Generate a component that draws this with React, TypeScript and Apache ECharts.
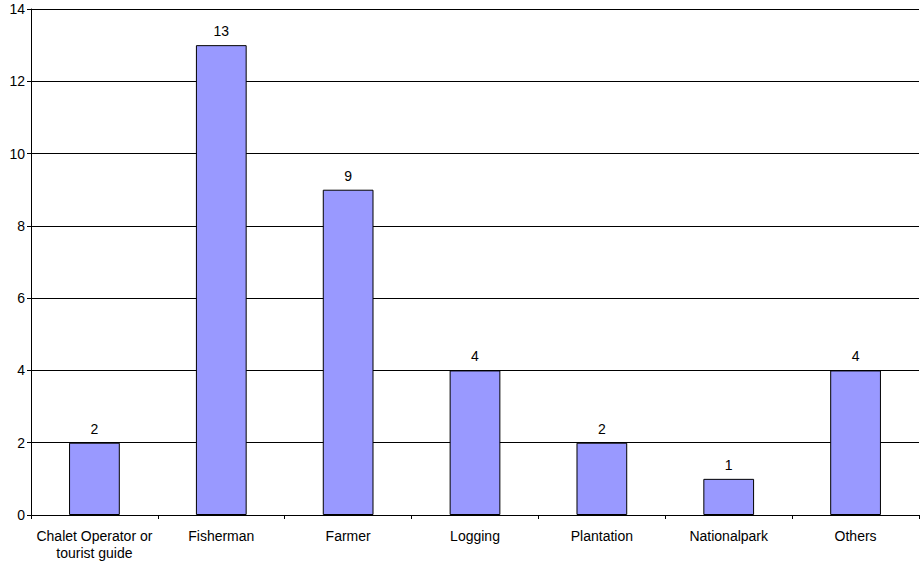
import React, { useEffect, useRef } from "react";
import * as echarts from "echarts";

// Occupation categories and respondent counts
const categories: string[] = [
  "Chalet Operator or\ntourist guide",
  "Fisherman",
  "Farmer",
  "Logging",
  "Plantation",
  "Nationalpark",
  "Others",
];
const counts: number[] = [2, 13, 9, 4, 2, 1, 4];

const yMin = 0;
const yMax = 14;
const yStep = 2;

const FONT = "'Liberation Sans', Arial, sans-serif";
const FONT_SIZE = 14;

export default function App() {
  const ref = useRef<HTMLDivElement>(null);

  useEffect(() => {
    if (!ref.current) return;
    const chart = echarts.init(ref.current, null, { renderer: "svg" });
    chart.setOption({
      animation: false,
      backgroundColor: "#ffffff",
      textStyle: { fontFamily: FONT },
      grid: { left: 31, right: 2, top: 9, bottom: 46, containLabel: false },
      xAxis: {
        type: "category",
        data: categories,
        boundaryGap: true,
        axisLine: { show: true, lineStyle: { color: "#000", width: 1 } },
        axisTick: {
          show: true,
          alignWithLabel: false,
          inside: false,
          length: 4,
          lineStyle: { color: "#000" },
        },
        axisLabel: {
          color: "#000",
          fontSize: FONT_SIZE,
          fontFamily: FONT,
          margin: 12,
          lineHeight: 17,
          interval: 0,
        },
        splitLine: { show: false },
      },
      yAxis: {
        type: "value",
        min: yMin,
        max: yMax,
        interval: yStep,
        axisLine: { show: true, lineStyle: { color: "#000", width: 1 } },
        axisTick: { show: true, length: 4, lineStyle: { color: "#000" } },
        axisLabel: {
          color: "#000",
          fontSize: FONT_SIZE,
          fontFamily: FONT,
          margin: 6,
        },
        splitLine: { show: true, lineStyle: { color: "#000", width: 1 } },
      },
      series: [
        {
          type: "bar",
          data: counts,
          barWidth: "40%",
          itemStyle: {
            color: "#9999ff",
            borderColor: "#000",
            borderWidth: 1,
          },
          label: {
            show: true,
            position: "top",
            distance: 7,
            color: "#000",
            fontSize: FONT_SIZE,
            fontFamily: FONT,
          },
        },
      ],
    });
    return () => chart.dispose();
  }, []);

  return <div ref={ref} style={{ width: 921, height: 561, position: "absolute", left: 0, top: 0 }} />;
}
